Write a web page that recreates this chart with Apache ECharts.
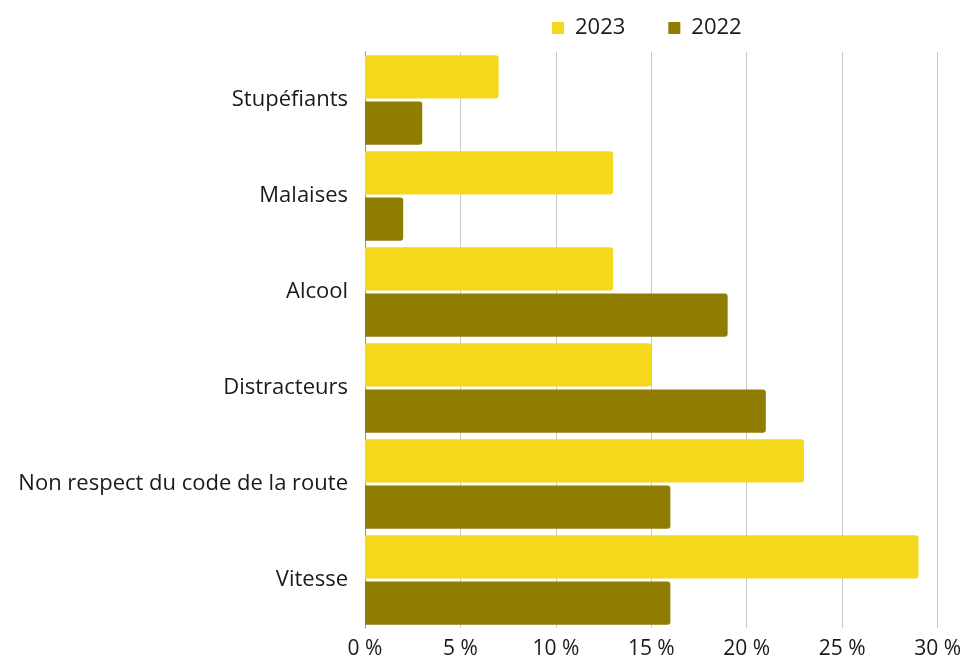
<!DOCTYPE html>
<html><head><meta charset="utf-8">
<script src="https://cdn.jsdelivr.net/npm/echarts@6/dist/echarts.min.js"></script>
<style>html,body{margin:0;padding:0;background:#fff}#c{width:964px;height:660px}</style>
</head><body><div id="c"></div>
<script>
const categories = ["Stupéfiants", "Malaises", "Alcool", "Distracteurs", "Non respect du code de la route", "Vitesse"];
const values2023 = [7, 13, 13, 15, 23, 29];
const values2022 = [3, 2, 19, 21, 16, 16];
const seriesNames = ["2023", "2022"];
const xTicks = [0, 5, 10, 15, 20, 25, 30];

const chart = echarts.init(document.getElementById('c'), null, {renderer: 'canvas'});
const font = '"Open Sans", "Noto Sans", sans-serif';
chart.setOption({
  animation: false,
  textStyle: {fontFamily: font},
  legend: {
    left: 547, top: 12, itemWidth: 12, itemHeight: 12, itemGap: 43,
    icon: 'rect',
    textStyle: {fontSize: 22, color: '#1a1a1a', fontFamily: font, padding: [0, 0, 0, 6]},
    data: seriesNames
  },
  grid: {left: 365, right: 26, top: 52, bottom: 29, containLabel: false},
  xAxis: {
    type: 'value', min: xTicks[0], max: xTicks[xTicks.length - 1], interval: 5,
    axisLine: {show: false}, axisTick: {show: false},
    splitLine: {show: true, lineStyle: {color: '#c8c8c8', width: 1}},
    axisLabel: {fontSize: 21, color: '#1a1a1a', fontFamily: font, margin: 11, formatter: v => v + ' %'}
  },
  yAxis: {
    type: 'category', data: categories, inverse: true,
    axisLine: {show: true, lineStyle: {color: '#999'}}, axisTick: {show: false},
    axisLabel: {fontSize: 22, color: '#1a1a1a', fontFamily: font, margin: 17}
  },
  series: [
    {name: seriesNames[0], type: 'bar', data: values2023, barGap: '7%', barCategoryGap: '7%',
     itemStyle: {color: '#F3D81C', borderRadius: [0, 3, 3, 0]}},
    {name: seriesNames[1], type: 'bar', data: values2022, barGap: '7%', barCategoryGap: '7%',
     itemStyle: {color: '#8F7C00', borderRadius: [0, 3, 3, 0]}}
  ]
});
</script></body></html>
